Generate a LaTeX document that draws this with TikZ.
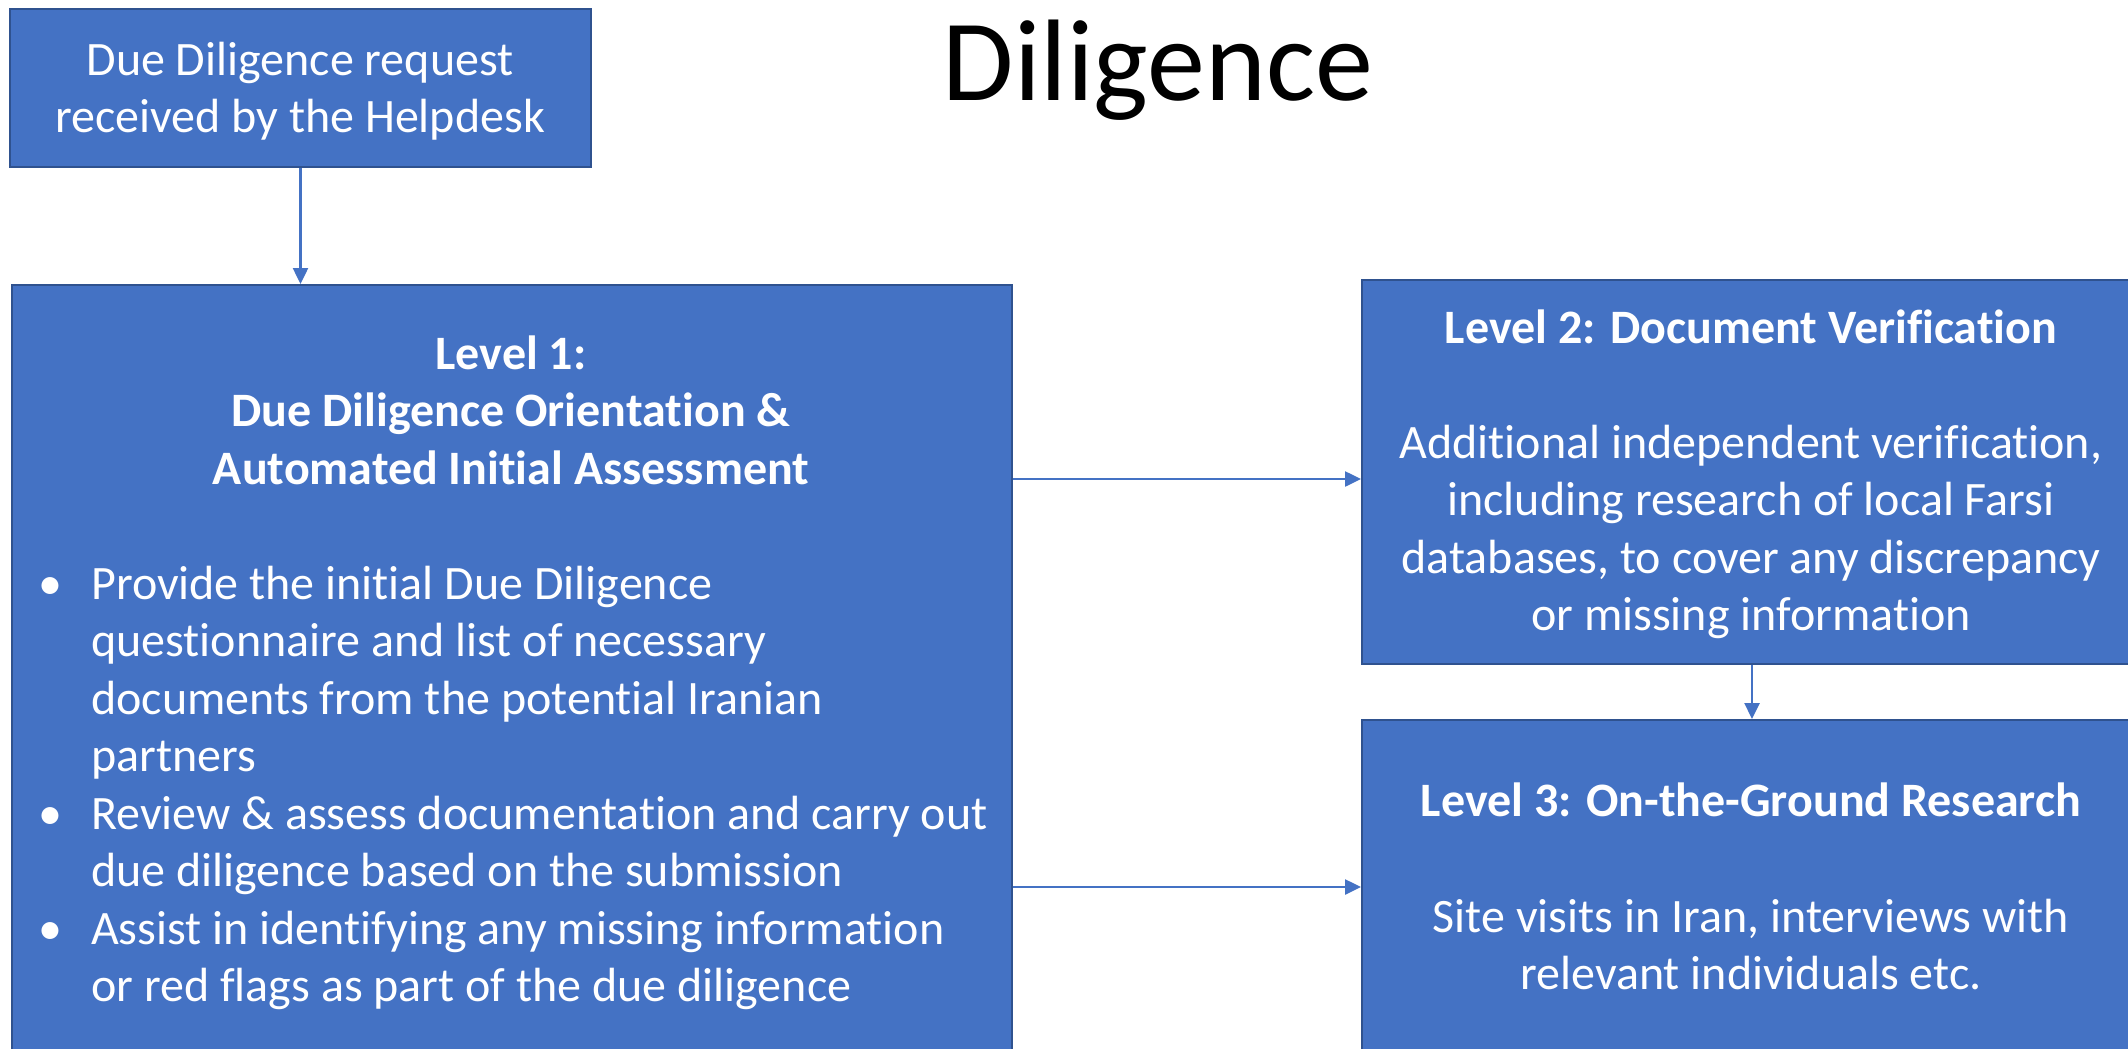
\documentclass[tikz,border=0pt]{standalone}
\usepackage{fontspec}
\setmainfont{Carlito}[Ligatures={NoCommon}]
\usetikzlibrary{arrows.meta}
\definecolor{boxfill}{HTML}{4472C4}
\definecolor{boxline}{HTML}{2F528F}
\definecolor{arrowcol}{HTML}{4472C4}
\begin{document}
\begin{tikzpicture}[x=1pt,y=-1pt,
  box/.style={draw=boxline, line width=2pt, fill=boxfill, rectangle, inner sep=0pt, anchor=north west},
  txt/.style={text=white, inner sep=0pt, font=\fontsize{48}{57.5}\selectfont},
  boldtxt/.style={txt, font=\fontsize{48}{57.5}\selectfont\bfseries},
  arr/.style={draw=arrowcol, line width=2.5pt, -{Triangle[length=16pt,width=15pt]}}]
\useasboundingbox (0,0) rectangle (2128,1049);
\clip (0,0) rectangle (2128,1049);
% boxes
\node[box, minimum width=581pt, minimum height=158pt] (top) at (9,8) {};
\node[box, minimum width=1000pt, minimum height=776pt] (l1) at (11,284) {};
\node[box, minimum width=780pt, minimum height=384pt] (l2) at (1361,279) {};
\node[box, minimum width=780pt, minimum height=334pt] (l3) at (1361,719) {};
% title
\node[font=\fontsize{116}{120}\selectfont, anchor=base, inner sep=0pt] (title) at (1158,100) {Diligence};
% texts
\node[txt, align=center, anchor=north] (toptxt) at (300,34.75)
  {\strut Due Diligence request\\received by the Helpdesk};
\node[boldtxt, align=center, anchor=north] (l1head) at (511,328.75)
  {\strut Level 1:\\Due Diligence Orientation \&\\Automated Initial Assessment};
\node[txt, align=left, anchor=north west] (l1body) at (38,558.75)
  {\strut\makebox[53pt][l]{•}Provide the initial Due Diligence\\
   \hspace*{53pt}questionnaire and list of necessary\\
   \hspace*{53pt}documents from the potential Iranian\\
   \hspace*{53pt}partners\\
   \makebox[53pt][l]{•}Review \& assess documentation and carry out\\
   \hspace*{53pt}due diligence based on the submission\\
   \makebox[53pt][l]{•}Assist in identifying any missing information\\
   \hspace*{53pt}or red flags as part of the due diligence};
\node[boldtxt, anchor=base] (l2head) at (1751,343)
  {Level 2: Document Verification};
\node[txt, align=center, anchor=north] (l2body) at (1751,417.75)
  {\strut Additional independent verification,\\including research of local Farsi\\databases, to cover any discrepancy\\or missing information};
\node[boldtxt, anchor=base] (l3head) at (1751,816)
  {Level 3: On-the-Ground Research};
\node[txt, align=center, anchor=north] (l3body) at (1751,891.75)
  {\strut Site visits in Iran, interviews with\\relevant individuals etc.};
% connectors
\coordinate (a2) at ([yshift=-7pt]l2.west);
\draw[arr] (top.south) -- (top.south |- l1.north);
\draw[arr] (a2 -| l1.east) -- (a2);
\draw[arr] (l3.west -| l1.east) -- (l3.west);
\draw[arr] (l2.south) -- (l3.north);
\end{tikzpicture}
\end{document}
